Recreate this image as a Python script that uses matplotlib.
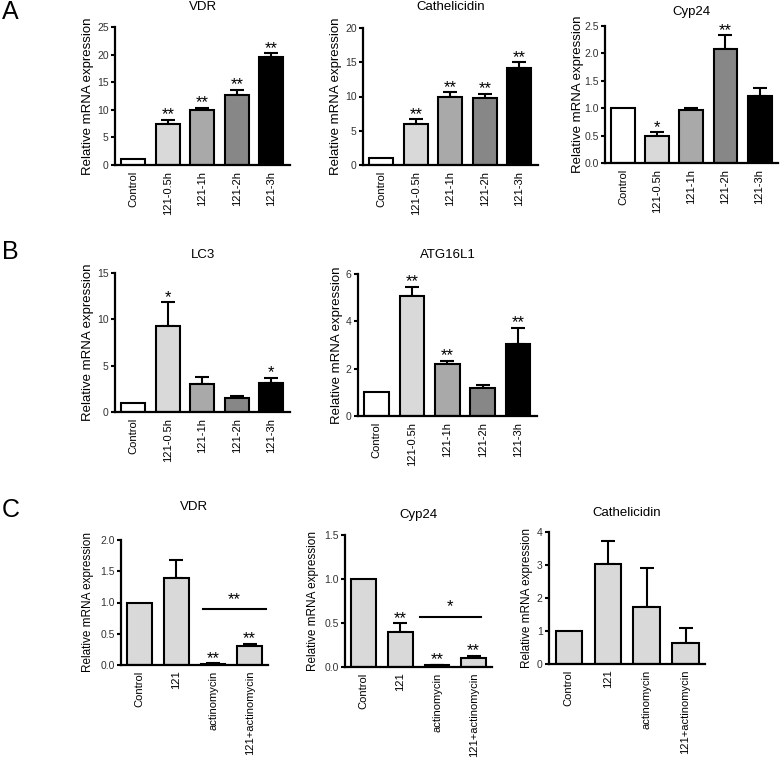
import numpy as np
import matplotlib
matplotlib.use("Agg")
import matplotlib.pyplot as plt

plt.rcParams['font.family'] = ['Liberation Sans', 'DejaVu Sans']

W, H = 780, 764

# ---- data ----
time_labels = ['Control', '121-0.5h', '121-1h', '121-2h', '121-3h']
time_colors = ['#ffffff', '#d9d9d9', '#a9a9a9', '#878787', '#000000']

a_vdr = [1.0, 7.4, 10.0, 12.7, 19.6]
a_vdr_err = [0, 0.8, 0.35, 0.9, 0.6]
a_vdr_sig = ['', '**', '**', '**', '**']

a_cath = [1.0, 6.0, 10.0, 9.8, 14.2]
a_cath_err = [0, 0.65, 0.6, 0.6, 0.8]
a_cath_sig = ['', '**', '**', '**', '**']

a_cyp = [1.0, 0.50, 0.96, 2.08, 1.23]
a_cyp_err = [0, 0.06, 0.04, 0.25, 0.13]
a_cyp_sig = ['', '*', '', '**', '']

b_lc3 = [1.0, 9.3, 3.0, 1.5, 3.15]
b_lc3_err = [0, 2.55, 0.8, 0.2, 0.55]
b_lc3_sig = ['', '*', '', '', '*']

b_atg = [1.0, 5.05, 2.2, 1.2, 3.04]
b_atg_err = [0, 0.42, 0.14, 0.09, 0.68]
b_atg_sig = ['', '**', '**', '', '**']

treat_labels = ['Control', '121', 'actinomycin', '121+actinomycin']
treat_color = '#d9d9d9'

c_vdr = [1.0, 1.40, 0.02, 0.30]
c_vdr_err = [0, 0.28, 0.006, 0.04]
c_vdr_sig = ['', '', '**', '**']

c_cyp = [1.0, 0.40, 0.02, 0.10]
c_cyp_err = [0, 0.10, 0.006, 0.03]
c_cyp_sig = ['', '**', '**', '**']

c_cath = [1.0, 3.03, 1.74, 0.65]
c_cath_err = [0, 0.71, 1.16, 0.45]
c_cath_sig = ['', '', '', '']

fig = plt.figure(figsize=(W / 100, H / 100), dpi=100)


def px_axes(l, t, r, b):
    return fig.add_axes([l / W, 1 - b / H, (r - l) / W, (b - t) / H])


def panel(box, vals, errs, sigs, labels, colors, ymax, ystep, fmt, title,
          title_y, ylab_dx, xlim, width, ylab_size=9.5):
    l, t, r, b = box
    ax = px_axes(l, t, r, b)
    x = np.arange(len(vals))
    ax.bar(x, vals, width=width, color=colors, edgecolor='black',
           linewidth=1.5, zorder=2)
    for xi, v, e, s in zip(x, vals, errs, sigs):
        if e > 0:
            ax.errorbar(xi, v, yerr=[[0], [e]], fmt='none', ecolor='black',
                        elinewidth=1.5, capsize=5, capthick=1.5, zorder=1)
        if s:
            ax.annotate(s, (xi, v + e), xytext=(0, 3.5), textcoords='offset points',
                        ha='center', va='center', fontsize=12)
    ax.set_xlim(*xlim)
    ax.set_ylim(0, ymax)
    ticks = np.arange(0, ymax + ystep / 2, ystep)
    ax.set_yticks(ticks)
    ax.set_yticklabels([fmt.format(v) for v in ticks], fontsize=7.5, color='#333333')
    ax.set_xticks(x)
    ax.set_xticklabels(labels, rotation=90, fontsize=8)
    ax.tick_params(axis='x', length=0, pad=4)
    ax.tick_params(axis='y', length=3, width=1.5, pad=1.5)
    for side in ['top', 'right']:
        ax.spines[side].set_visible(False)
    for side in ['left', 'bottom']:
        ax.spines[side].set_linewidth(1.6)
    fig.text((l + r) / 2 / W, 1 - title_y / H, title, ha='center', va='center',
             fontsize=9.5)
    fig.text((l - ylab_dx) / W, 1 - (t + b) / 2 / H, 'Relative mRNA expression',
             rotation=90, ha='center', va='center', fontsize=ylab_size)
    return ax


xa = (-0.53, 4.54)
xc = (-0.51, 3.5)

panel((115, 27, 290, 165), a_vdr, a_vdr_err, a_vdr_sig, time_labels, time_colors,
      25, 5, '{:.0f}', 'VDR', 7, 27, xa, 0.7)
panel((363, 28, 538, 165), a_cath, a_cath_err, a_cath_sig, time_labels, time_colors,
      20, 5, '{:.0f}', 'Cathelicidin', 7, 27, xa, 0.7)
panel((605, 26, 778, 163), a_cyp, a_cyp_err, a_cyp_sig, time_labels, time_colors,
      2.5, 0.5, '{:.1f}', 'Cyp24', 12, 27, xa, 0.7)

panel((115, 273, 290, 412), b_lc3, b_lc3_err, b_lc3_sig, time_labels, time_colors,
      15, 5, '{:.0f}', 'LC3', 255, 27, xa, 0.7)
panel((358, 274, 537, 416), b_atg, b_atg_err, b_atg_sig, time_labels, time_colors,
      6, 2, '{:.0f}', 'ATG16L1', 255, 21, xa, 0.7)

ax_cv = panel((121, 540, 268, 665), c_vdr, c_vdr_err, c_vdr_sig, treat_labels,
              [treat_color] * 4, 2.0, 0.5, '{:.1f}', 'VDR', 507, 33, xc, 0.68, 8.5)
ax_cc = panel((345, 535, 492, 667), c_cyp, c_cyp_err, c_cyp_sig, treat_labels,
              [treat_color] * 4, 1.5, 0.5, '{:.1f}', 'Cyp24', 515, 32, xc, 0.68, 8.5)
panel((549, 532, 705, 664), c_cath, c_cath_err, c_cath_sig, treat_labels,
      [treat_color] * 4, 4, 1, '{:.0f}', 'Cathelicidin', 513, 22, xc, 0.68, 8.5)

# comparison brackets between actinomycin and 121+actinomycin
for ax, x0, x1, yb, s in [(ax_cv, 1.73, 3.45, 0.89, '**'), (ax_cc, 1.53, 3.2, 0.57, '*')]:
    ax.plot([x0, x1], [yb, yb], color='black', lw=1.5, clip_on=False)
    ax.annotate(s, ((x0 + x1) / 2, yb), xytext=(0, 7), textcoords='offset points',
                ha='center', va='center', fontsize=12)

# panel letters
for letter, y in [('A', 12), ('B', 252), ('C', 510)]:
    fig.text(2 / W, 1 - y / H, letter, ha='left', va='center', fontsize=18)

fig.savefig('out.png', dpi=100)
